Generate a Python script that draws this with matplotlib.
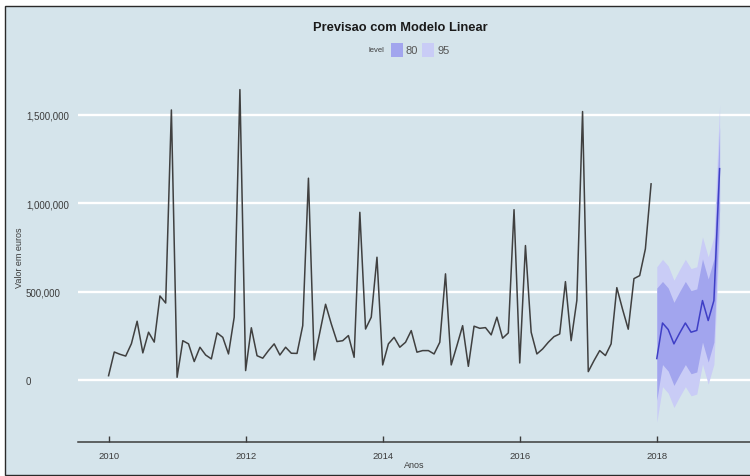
import matplotlib
matplotlib.use('Agg')
import matplotlib.pyplot as plt
from matplotlib.patches import Rectangle
import numpy as np

# ---------------- data (euros, thousands) ----------------
hist_start = 2010
hist_k = [
    24, 158, 145, 135, 205, 332, 153, 270, 214, 475, 435, 1527,
    15, 222, 204, 104, 185, 141, 119, 266, 241, 147, 355, 1642,
    53, 295, 137, 123, 166, 204, 141, 185, 151, 150, 307, 1141,
    113, 270, 428, 317, 217, 222, 251, 128, 948, 288, 355, 694,
    85, 204, 241, 185, 213, 279, 157, 166, 166, 147, 213, 600,
    85, 194, 307, 77, 304, 292, 296, 255, 355, 236, 266, 963,
    96, 760, 270, 147, 175, 213, 245, 260, 556, 222, 450, 1518,
    47, 109, 166, 138, 204, 522, 400, 287, 573, 590, 741, 1109,
]
fc_start = 2018
fc_mean_k = [121, 322, 285, 204, 265, 322, 270, 280, 449, 336, 449, 1195]
fc_lo80_k = [-114, 87, 50, -31, 30, 87, 35, 45, 214, 101, 214, 960]
fc_hi80_k = [520, 557, 520, 439, 500, 557, 505, 515, 684, 571, 684, 1430]
fc_lo95_k = [-239, -38, -75, -156, -95, -38, -90, -80, 89, -24, 89, 835]
fc_hi95_k = [640, 682, 645, 564, 625, 682, 630, 640, 809, 696, 809, 1555]

x_ticks = [2010, 2012, 2014, 2016, 2018]
y_ticks = [0, 500000, 1000000, 1500000]
title = 'Previsao com Modelo Linear'
legend_title = 'level'
legend_levels = ['80', '95']

# ---------------- figure ----------------
W, H = 750, 477
def fx(px): return px / W
def fy(py): return 1 - py / H

bg = '#d5e4eb'
txt = '#3c3c3c'
c95 = '#c9ccf6'
c80 = '#a2a5ee'
cmean = '#3f3fc6'
cline = '#404040'

fig = plt.figure(figsize=(7.5, 4.77), dpi=100)
fig.patch.set_facecolor('white')
fig.patches.append(Rectangle((fx(5), fy(476)), fx(760) - fx(5), fy(7) - fy(476),
                             transform=fig.transFigure, facecolor=bg,
                             edgecolor='#2a2a2a', lw=1.0, zorder=-10))

ax = fig.add_axes([fx(78), fy(443), fx(750) - fx(78), fy(74) - fy(443)])
ax.set_zorder(5)
ax.patch.set_alpha(0)

hist = np.array(hist_k) * 1000.0
hx = hist_start + np.arange(len(hist)) / 12.0
fm = np.array(fc_mean_k) * 1000.0
fxs = fc_start + np.arange(len(fm)) / 12.0

ax.fill_between(fxs, np.array(fc_lo95_k) * 1000, np.array(fc_hi95_k) * 1000,
                color=c95, lw=0, zorder=2)
ax.fill_between(fxs, np.array(fc_lo80_k) * 1000, np.array(fc_hi80_k) * 1000,
                color=c80, lw=0, zorder=3)
ax.plot(fxs, fm, color=cmean, lw=1.1, zorder=4)
ax.plot(hx, hist, color=cline, lw=1.1, zorder=4)

ax.set_xlim(2009.554, 2019.36)
ax.set_ylim(-351000, 1736000)

ax.set_axisbelow(True)
ax.yaxis.grid(True, color='white', lw=1.7)
ax.xaxis.grid(False)

for s in ['top', 'right', 'left']:
    ax.spines[s].set_visible(False)
ax.spines['bottom'].set_color(txt)
ax.spines['bottom'].set_linewidth(1.1)

ax.set_xticks(x_ticks)
ax.set_xticklabels([str(v) for v in x_ticks])
ax.tick_params(axis='x', direction='in', length=4, width=1, color=txt,
               pad=6.5, labelsize=6.8, labelcolor=txt)
lab_font = ['Liberation Sans', 'DejaVu Sans']
for lab in ax.get_xticklabels():
    lab.set_family(lab_font)

ax.set_yticks(y_ticks)
ax.set_yticklabels(['{:,}'.format(v) for v in y_ticks])
ax.tick_params(axis='y', length=0, pad=37.5, labelsize=7, labelcolor=txt)
for lab in ax.get_yticklabels():
    lab.set_ha('left')
    lab.set_family(lab_font)

fig.text(fx(20), fy(258), 'Valor em euros', rotation=90, ha='center', va='center',
         fontsize=6.5, color=txt, family=lab_font)
fig.text(fx(414), fy(466), 'Anos', ha='center', va='center',
         fontsize=6.5, color=txt, family=lab_font)

title_font = ['Liberation Sans', 'DejaVu Sans']
fig.text(fx(400), fy(28), title, ha='center', va='center', fontsize=9.3,
         fontweight='bold', color='#1a1a1a', family=title_font)

# legend
fig.text(fx(376), fy(51), legend_title, ha='center', va='center', fontsize=5.5,
         color=txt, family=lab_font)
fig.patches.append(Rectangle((fx(391), fy(58)), fx(403) - fx(391), fy(44) - fy(58),
                             transform=fig.transFigure, facecolor=c80, lw=0))
fig.text(fx(406), fy(51), legend_levels[0], ha='left', va='center', fontsize=8,
         color='#555555', family=title_font)
fig.patches.append(Rectangle((fx(422), fy(58)), fx(434) - fx(422), fy(44) - fy(58),
                             transform=fig.transFigure, facecolor=c95, lw=0))
fig.text(fx(437), fy(51), legend_levels[1], ha='left', va='center', fontsize=8,
         color='#555555', family=title_font)

fig.savefig('out.png', dpi=100, facecolor=fig.get_facecolor())
